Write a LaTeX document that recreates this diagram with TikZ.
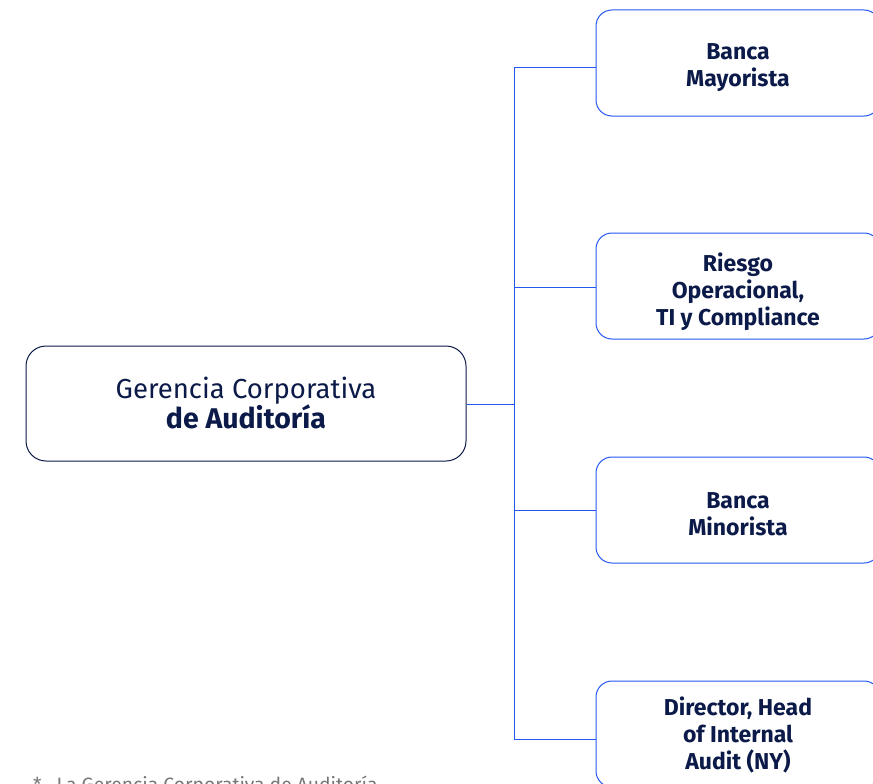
\documentclass[tikz,border=0pt]{standalone}
\usepackage{fontspec}
\setmainfont{Fira Sans}
\definecolor{navy}{HTML}{0B1A48}
\definecolor{linkblue}{HTML}{2457F0}
\definecolor{footgray}{HTML}{777777}
\begin{document}
\begin{tikzpicture}[x=1pt,y=-1pt,
  mainbox/.style={draw=navy,line width=1pt,rounded corners=20pt,minimum width=440pt,minimum height=115pt,align=center,text=navy,font=\fontsize{27.5}{30}\selectfont,inner sep=0pt},
  unitbox/.style={draw=linkblue,line width=1pt,rounded corners=16pt,minimum width=284pt,minimum height=106pt,inner sep=0pt},
  unittext/.style={align=center,text=navy,font=\fontsize{23}{27}\selectfont\bfseries,inner sep=0pt},
  link/.style={draw=linkblue,line width=1pt}]
\useasboundingbox (0,0) rectangle (873,784);
\node[mainbox] (main) at (246,403.5) {Gerencia Corporativa\\{\fontsize{28.5}{30}\selectfont\bfseries de Auditoría}};
\node[unitbox] (u1) at (738,63) {};
\node[unitbox] (u2) at (738,286) {};
\node[unitbox] (u3) at (738,510) {};
\node[unitbox] (u4) at (738,734) {};
\node[unittext] (t1) at (738,67.5) {Banca\\Mayorista};
\node[unittext] (t2) at (738,291.5) {Riesgo\\Operacional,\\TI y Compliance};
\node[unittext] (t3) at (738,514) {Banca\\Minorista};
\node[unittext] (t4) at (738,735) {Director, Head\\of Internal\\Audit (NY)};
\coordinate (j) at (514,404);
\draw[link] (main.east |- j) -- (j);
\draw[link] (u1.west |- 0,68) -| (j |- 0,68) -- (j |- 0,739) -- (u4.west |- 0,739);
\draw[link] (j |- 0,287) -- (u2.west |- 0,287);
\draw[link] (j |- 0,510) -- (u3.west |- 0,510);
\node[anchor=base west,text=footgray,font=\fontsize{19.3}{22}\selectfont,inner sep=0pt] (foot) at (33,791) {*\hspace{15pt}La Gerencia Corporativa de Auditoría};
\end{tikzpicture}
\end{document}
